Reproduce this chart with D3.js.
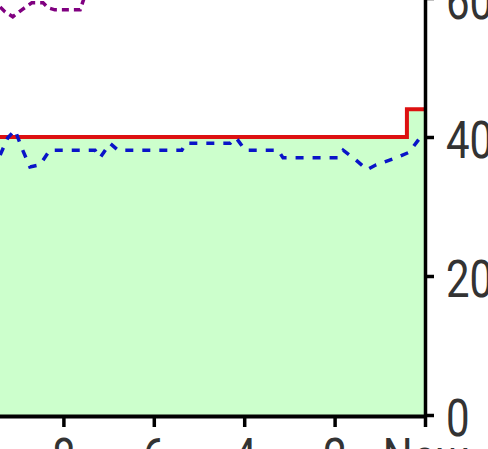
<!DOCTYPE html>
<html>
<head>
<meta charset="utf-8">
<script src="https://cdn.jsdelivr.net/npm/d3@7"></script>
<style>
  body { margin: 0; background: #fff; }
  svg { display: block; }
</style>
</head>
<body>
<div id="chart"></div>
<script>
// Time axis runs backwards: "Now" at the right edge
var xTicks = [8, 6, 4, 2, 0];
var xTickLabels = ["8", "6", "4", "2", "Now"];
var yTicks = [0, 20, 40, 60];

// Red step line (limit), green area underneath it
var limitTimes = [10, 0.4, 0];
var limitValues = [40, 44, 44];

// Blue dashed series
var blueTimes = [9.4, 9.23, 9.07, 8.92, 8.74, 8.52, 8.3, 7.3, 7.19, 6.97, 6.79, 5.38, 5.29,
                 4.31, 4.18, 3.98, 3.25, 3.14, 1.92, 1.81, 1.53, 1.28, 1.08, 0.64, 0.35, 0.11];
var blueValues = [37.4, 39.9, 41.0, 38.4, 35.7, 36.0, 38.1, 38.1, 37.0, 39.1, 38.1, 38.1, 39.1,
                  39.1, 39.9, 38.1, 38.1, 37.0, 37.0, 38.1, 36.7, 35.3, 36.0, 37.0, 37.8, 39.9];

// Purple dotted series (runs off the top of the view)
var purpleTimes = [9.4, 9.29, 9.12, 8.92, 8.7, 8.45, 8.34, 8.19, 7.63, 7.52, 7.2, 4, 0];
var purpleValues = [58.7, 58.0, 57.3, 58.3, 59.3, 59.3, 58.6, 58.3, 58.3, 60.4, 62.5, 63, 62];

var w = 488;
var h = 449;

var xScale = d3.scaleLinear()
    .domain([10, 0])
    .range([-27, 425]);

var yScale = d3.scaleLinear()
    .domain([0, 65])
    .range([415, 415 - 65 * 6.95]);

var svg = d3.select("#chart")
    .append("svg")
    .attr("width", w)
    .attr("height", h);

function pts(ts, vs) {
    return ts.map(function(t, i) { return [t, vs[i]]; });
}

var limitData = pts(limitTimes, limitValues);

// green area under the limit
svg.append("path")
    .datum(limitData)
    .attr("fill", "#ccffcc")
    .attr("d", d3.area()
        .curve(d3.curveStepAfter)
        .x(function(d) { return xScale(d[0]); })
        .y0(yScale(0))
        .y1(function(d) { return yScale(d[1]); }));

svg.append("path")
    .datum(limitData)
    .attr("fill", "none")
    .attr("stroke", "#dd1111")
    .attr("stroke-width", 4)
    .attr("d", d3.line()
        .curve(d3.curveStepAfter)
        .x(function(d) { return xScale(d[0]); })
        .y(function(d) { return yScale(d[1]); }));

var line = d3.line()
    .x(function(d) { return xScale(d[0]); })
    .y(function(d) { return yScale(d[1]); });

svg.append("path")
    .datum(pts(blueTimes, blueValues))
    .attr("fill", "none")
    .attr("stroke", "#0a14c8")
    .attr("stroke-width", 3.5)
    .attr("stroke-dasharray", "8,9")
    .attr("d", line);

svg.append("path")
    .datum(pts(purpleTimes, purpleValues))
    .attr("fill", "none")
    .attr("stroke", "#800080")
    .attr("stroke-width", 3.5)
    .attr("stroke-dasharray", "7,5")
    .attr("d", line);

// axes
var xAxis = d3.axisBottom(xScale)
    .tickValues(xTicks)
    .tickFormat(function(d, i) { return xTickLabels[i]; })
    .tickSize(11)
    .tickSizeOuter(0);

var yAxis = d3.axisRight(yScale)
    .tickValues(yTicks)
    .tickSize(9)
    .tickSizeOuter(0);

var gx = svg.append("g")
    .attr("transform", "translate(0," + 416 + ")")
    .call(xAxis);

var gy = svg.append("g")
    .attr("transform", "translate(" + 425 + ",0)")
    .call(yAxis);

gx.select(".domain").attr("stroke-width", 4);
gx.selectAll(".tick line").attr("stroke-width", 3.5);
gx.selectAll(".tick text")
    .attr("x", 0).attr("y", 0).attr("dy", null)
    .attr("fill", "#333")
    .attr("font-family", "Roboto")
    .attr("font-size", 42)
    .attr("text-anchor", "middle")
    .attr("transform", "translate(0,59) scale(1,1.22)");

gy.select(".domain").attr("stroke-width", 3.5);
gy.selectAll(".tick text")
    .attr("x", 0).attr("y", 0).attr("dy", null)
    .attr("fill", "#333")
    .attr("font-family", "Roboto")
    .attr("font-size", 42)
    .attr("text-anchor", "start")
    .attr("transform", "translate(21,20) scale(1,1.22)");
gy.selectAll(".tick line").attr("stroke-width", 3.5);
</script>
</body>
</html>
